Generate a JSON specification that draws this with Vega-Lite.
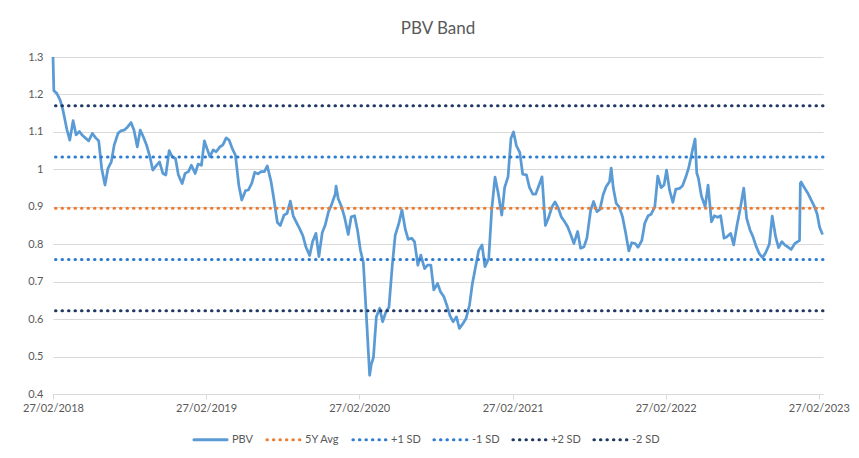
{
  "$schema": "https://vega.github.io/schema/vega-lite/v6.json",
  "width": 770,
  "height": 337,
  "autosize": {"type": "none"},
  "padding": {"left": 53, "top": 57, "right": 36, "bottom": 64},
  "background": "white",
  "title": {"text": "PBV Band", "font": "Lato", "fontSize": 17, "fontWeight": "normal", "color": "#595959", "anchor": "middle", "baseline": "alphabetic", "offset": 0},
  "config": {
    "view": {"stroke": null},
    "axis": {"labelFont": "Lato", "labelFontSize": 11, "labelColor": "#595959", "title": null}
  },
  "resolve": {"scale": {"y": "shared", "x": "shared"}},
  "layer": [
    {
      "data": {"values": [
        {"date": "2018-02-27", "PBV": 1.30},
        {"date": "2018-03-01", "PBV": 1.210},
        {"date": "2018-03-08", "PBV": 1.203},
        {"date": "2018-03-16", "PBV": 1.185},
        {"date": "2018-03-23", "PBV": 1.157},
        {"date": "2018-04-01", "PBV": 1.107},
        {"date": "2018-04-08", "PBV": 1.078},
        {"date": "2018-04-16", "PBV": 1.130},
        {"date": "2018-04-23", "PBV": 1.092},
        {"date": "2018-05-01", "PBV": 1.101},
        {"date": "2018-05-08", "PBV": 1.091},
        {"date": "2018-05-16", "PBV": 1.083},
        {"date": "2018-05-23", "PBV": 1.076},
        {"date": "2018-06-01", "PBV": 1.096},
        {"date": "2018-06-08", "PBV": 1.085},
        {"date": "2018-06-16", "PBV": 1.076},
        {"date": "2018-06-23", "PBV": 1.003},
        {"date": "2018-07-01", "PBV": 0.958},
        {"date": "2018-07-08", "PBV": 1.002},
        {"date": "2018-07-16", "PBV": 1.020},
        {"date": "2018-07-23", "PBV": 1.065},
        {"date": "2018-08-01", "PBV": 1.096},
        {"date": "2018-08-08", "PBV": 1.103},
        {"date": "2018-08-16", "PBV": 1.105},
        {"date": "2018-08-23", "PBV": 1.112},
        {"date": "2018-09-01", "PBV": 1.125},
        {"date": "2018-09-08", "PBV": 1.105},
        {"date": "2018-09-16", "PBV": 1.060},
        {"date": "2018-09-23", "PBV": 1.105},
        {"date": "2018-10-01", "PBV": 1.085},
        {"date": "2018-10-08", "PBV": 1.065},
        {"date": "2018-10-16", "PBV": 1.034},
        {"date": "2018-10-23", "PBV": 0.998},
        {"date": "2018-11-01", "PBV": 1.011},
        {"date": "2018-11-08", "PBV": 1.020},
        {"date": "2018-11-16", "PBV": 0.989},
        {"date": "2018-11-23", "PBV": 0.985},
        {"date": "2018-12-01", "PBV": 1.050},
        {"date": "2018-12-08", "PBV": 1.034},
        {"date": "2018-12-16", "PBV": 1.029},
        {"date": "2018-12-23", "PBV": 0.985},
        {"date": "2019-01-01", "PBV": 0.962},
        {"date": "2019-01-08", "PBV": 0.989},
        {"date": "2019-01-16", "PBV": 0.994},
        {"date": "2019-01-23", "PBV": 1.011},
        {"date": "2019-02-01", "PBV": 0.989},
        {"date": "2019-02-08", "PBV": 1.014},
        {"date": "2019-02-16", "PBV": 1.011},
        {"date": "2019-02-23", "PBV": 1.076},
        {"date": "2019-03-01", "PBV": 1.056},
        {"date": "2019-03-08", "PBV": 1.034},
        {"date": "2019-03-16", "PBV": 1.052},
        {"date": "2019-03-23", "PBV": 1.047},
        {"date": "2019-04-01", "PBV": 1.060},
        {"date": "2019-04-08", "PBV": 1.065},
        {"date": "2019-04-16", "PBV": 1.084},
        {"date": "2019-04-23", "PBV": 1.078},
        {"date": "2019-05-01", "PBV": 1.054},
        {"date": "2019-05-08", "PBV": 1.038},
        {"date": "2019-05-16", "PBV": 0.958},
        {"date": "2019-05-23", "PBV": 0.918},
        {"date": "2019-06-01", "PBV": 0.943},
        {"date": "2019-06-08", "PBV": 0.945},
        {"date": "2019-06-16", "PBV": 0.963},
        {"date": "2019-06-23", "PBV": 0.992},
        {"date": "2019-07-01", "PBV": 0.988},
        {"date": "2019-07-08", "PBV": 0.994},
        {"date": "2019-07-16", "PBV": 0.994},
        {"date": "2019-07-23", "PBV": 1.009},
        {"date": "2019-08-01", "PBV": 0.967},
        {"date": "2019-08-08", "PBV": 0.918},
        {"date": "2019-08-16", "PBV": 0.858},
        {"date": "2019-08-23", "PBV": 0.850},
        {"date": "2019-09-01", "PBV": 0.878},
        {"date": "2019-09-08", "PBV": 0.882},
        {"date": "2019-09-16", "PBV": 0.915},
        {"date": "2019-09-23", "PBV": 0.875},
        {"date": "2019-10-01", "PBV": 0.857},
        {"date": "2019-10-08", "PBV": 0.842},
        {"date": "2019-10-16", "PBV": 0.822},
        {"date": "2019-10-23", "PBV": 0.793},
        {"date": "2019-11-01", "PBV": 0.770},
        {"date": "2019-11-08", "PBV": 0.807},
        {"date": "2019-11-16", "PBV": 0.829},
        {"date": "2019-11-23", "PBV": 0.767},
        {"date": "2019-12-01", "PBV": 0.831},
        {"date": "2019-12-08", "PBV": 0.851},
        {"date": "2019-12-16", "PBV": 0.887},
        {"date": "2019-12-23", "PBV": 0.905},
        {"date": "2020-01-01", "PBV": 0.934},
        {"date": "2020-01-03", "PBV": 0.955},
        {"date": "2020-01-08", "PBV": 0.922},
        {"date": "2020-01-16", "PBV": 0.900},
        {"date": "2020-01-23", "PBV": 0.873},
        {"date": "2020-02-01", "PBV": 0.826},
        {"date": "2020-02-08", "PBV": 0.873},
        {"date": "2020-02-16", "PBV": 0.876},
        {"date": "2020-02-23", "PBV": 0.838},
        {"date": "2020-03-01", "PBV": 0.784},
        {"date": "2020-03-08", "PBV": 0.751},
        {"date": "2020-03-16", "PBV": 0.593},
        {"date": "2020-03-23", "PBV": 0.450},
        {"date": "2020-03-27", "PBV": 0.480},
        {"date": "2020-04-01", "PBV": 0.497},
        {"date": "2020-04-08", "PBV": 0.606},
        {"date": "2020-04-16", "PBV": 0.629},
        {"date": "2020-04-23", "PBV": 0.593},
        {"date": "2020-05-01", "PBV": 0.620},
        {"date": "2020-05-08", "PBV": 0.631},
        {"date": "2020-05-16", "PBV": 0.744},
        {"date": "2020-05-23", "PBV": 0.824},
        {"date": "2020-06-01", "PBV": 0.857},
        {"date": "2020-06-08", "PBV": 0.892},
        {"date": "2020-06-16", "PBV": 0.840},
        {"date": "2020-06-23", "PBV": 0.813},
        {"date": "2020-07-01", "PBV": 0.816},
        {"date": "2020-07-08", "PBV": 0.807},
        {"date": "2020-07-16", "PBV": 0.744},
        {"date": "2020-07-23", "PBV": 0.771},
        {"date": "2020-08-01", "PBV": 0.735},
        {"date": "2020-08-08", "PBV": 0.744},
        {"date": "2020-08-16", "PBV": 0.744},
        {"date": "2020-08-23", "PBV": 0.678},
        {"date": "2020-09-01", "PBV": 0.695},
        {"date": "2020-09-08", "PBV": 0.673},
        {"date": "2020-09-16", "PBV": 0.660},
        {"date": "2020-09-23", "PBV": 0.637},
        {"date": "2020-10-01", "PBV": 0.608},
        {"date": "2020-10-08", "PBV": 0.593},
        {"date": "2020-10-16", "PBV": 0.606},
        {"date": "2020-10-23", "PBV": 0.575},
        {"date": "2020-11-01", "PBV": 0.589},
        {"date": "2020-11-08", "PBV": 0.602},
        {"date": "2020-11-16", "PBV": 0.637},
        {"date": "2020-11-23", "PBV": 0.695},
        {"date": "2020-12-01", "PBV": 0.742},
        {"date": "2020-12-08", "PBV": 0.783},
        {"date": "2020-12-16", "PBV": 0.798},
        {"date": "2020-12-23", "PBV": 0.740},
        {"date": "2021-01-01", "PBV": 0.762},
        {"date": "2021-01-08", "PBV": 0.891},
        {"date": "2021-01-16", "PBV": 0.979},
        {"date": "2021-01-23", "PBV": 0.940},
        {"date": "2021-02-01", "PBV": 0.878},
        {"date": "2021-02-08", "PBV": 0.952},
        {"date": "2021-02-16", "PBV": 0.980},
        {"date": "2021-02-23", "PBV": 1.083},
        {"date": "2021-03-01", "PBV": 1.100},
        {"date": "2021-03-08", "PBV": 1.063},
        {"date": "2021-03-16", "PBV": 1.045},
        {"date": "2021-03-23", "PBV": 0.987},
        {"date": "2021-04-01", "PBV": 0.985},
        {"date": "2021-04-08", "PBV": 0.952},
        {"date": "2021-04-16", "PBV": 0.934},
        {"date": "2021-04-23", "PBV": 0.934},
        {"date": "2021-05-01", "PBV": 0.958},
        {"date": "2021-05-08", "PBV": 0.980},
        {"date": "2021-05-16", "PBV": 0.850},
        {"date": "2021-05-23", "PBV": 0.869},
        {"date": "2021-06-01", "PBV": 0.900},
        {"date": "2021-06-08", "PBV": 0.913},
        {"date": "2021-06-16", "PBV": 0.896},
        {"date": "2021-06-23", "PBV": 0.873},
        {"date": "2021-07-01", "PBV": 0.860},
        {"date": "2021-07-08", "PBV": 0.847},
        {"date": "2021-07-16", "PBV": 0.824},
        {"date": "2021-07-23", "PBV": 0.802},
        {"date": "2021-08-01", "PBV": 0.834},
        {"date": "2021-08-08", "PBV": 0.789},
        {"date": "2021-08-16", "PBV": 0.793},
        {"date": "2021-08-23", "PBV": 0.816},
        {"date": "2021-09-01", "PBV": 0.891},
        {"date": "2021-09-08", "PBV": 0.914},
        {"date": "2021-09-16", "PBV": 0.887},
        {"date": "2021-09-23", "PBV": 0.893},
        {"date": "2021-10-01", "PBV": 0.933},
        {"date": "2021-10-08", "PBV": 0.954},
        {"date": "2021-10-16", "PBV": 0.967},
        {"date": "2021-10-20", "PBV": 1.003},
        {"date": "2021-10-25", "PBV": 0.950},
        {"date": "2021-11-01", "PBV": 0.909},
        {"date": "2021-11-08", "PBV": 0.900},
        {"date": "2021-11-16", "PBV": 0.873},
        {"date": "2021-11-23", "PBV": 0.833},
        {"date": "2021-12-01", "PBV": 0.782},
        {"date": "2021-12-08", "PBV": 0.804},
        {"date": "2021-12-16", "PBV": 0.802},
        {"date": "2021-12-23", "PBV": 0.792},
        {"date": "2022-01-01", "PBV": 0.810},
        {"date": "2022-01-08", "PBV": 0.856},
        {"date": "2022-01-16", "PBV": 0.876},
        {"date": "2022-01-23", "PBV": 0.880},
        {"date": "2022-02-01", "PBV": 0.900},
        {"date": "2022-02-08", "PBV": 0.982},
        {"date": "2022-02-16", "PBV": 0.951},
        {"date": "2022-02-23", "PBV": 0.958},
        {"date": "2022-03-01", "PBV": 0.998},
        {"date": "2022-03-08", "PBV": 0.945},
        {"date": "2022-03-16", "PBV": 0.912},
        {"date": "2022-03-23", "PBV": 0.947},
        {"date": "2022-04-01", "PBV": 0.949},
        {"date": "2022-04-08", "PBV": 0.956},
        {"date": "2022-04-16", "PBV": 0.980},
        {"date": "2022-04-23", "PBV": 1.005},
        {"date": "2022-05-01", "PBV": 1.047},
        {"date": "2022-05-08", "PBV": 1.081},
        {"date": "2022-05-12", "PBV": 0.990},
        {"date": "2022-05-16", "PBV": 0.976},
        {"date": "2022-05-23", "PBV": 0.929},
        {"date": "2022-06-01", "PBV": 0.900},
        {"date": "2022-06-08", "PBV": 0.958},
        {"date": "2022-06-16", "PBV": 0.860},
        {"date": "2022-06-23", "PBV": 0.876},
        {"date": "2022-07-01", "PBV": 0.872},
        {"date": "2022-07-08", "PBV": 0.876},
        {"date": "2022-07-16", "PBV": 0.816},
        {"date": "2022-07-23", "PBV": 0.820},
        {"date": "2022-08-01", "PBV": 0.829},
        {"date": "2022-08-08", "PBV": 0.798},
        {"date": "2022-08-16", "PBV": 0.851},
        {"date": "2022-08-23", "PBV": 0.891},
        {"date": "2022-09-01", "PBV": 0.950},
        {"date": "2022-09-08", "PBV": 0.869},
        {"date": "2022-09-16", "PBV": 0.838},
        {"date": "2022-09-23", "PBV": 0.820},
        {"date": "2022-10-01", "PBV": 0.793},
        {"date": "2022-10-08", "PBV": 0.775},
        {"date": "2022-10-16", "PBV": 0.764},
        {"date": "2022-10-23", "PBV": 0.777},
        {"date": "2022-11-01", "PBV": 0.800},
        {"date": "2022-11-08", "PBV": 0.875},
        {"date": "2022-11-16", "PBV": 0.820},
        {"date": "2022-11-23", "PBV": 0.791},
        {"date": "2022-12-01", "PBV": 0.807},
        {"date": "2022-12-08", "PBV": 0.798},
        {"date": "2022-12-16", "PBV": 0.792},
        {"date": "2022-12-23", "PBV": 0.786},
        {"date": "2023-01-01", "PBV": 0.802},
        {"date": "2023-01-08", "PBV": 0.807},
        {"date": "2023-01-12", "PBV": 0.810},
        {"date": "2023-01-14", "PBV": 0.963},
        {"date": "2023-01-16", "PBV": 0.966},
        {"date": "2023-01-23", "PBV": 0.952},
        {"date": "2023-02-01", "PBV": 0.936},
        {"date": "2023-02-08", "PBV": 0.920},
        {"date": "2023-02-16", "PBV": 0.902},
        {"date": "2023-02-23", "PBV": 0.881},
        {"date": "2023-03-01", "PBV": 0.845},
        {"date": "2023-03-08", "PBV": 0.826}
      ]},
      "transform": [{"fold": ["PBV"], "as": ["series", "value"]}],
      "mark": {"type": "line", "strokeWidth": 2.75, "strokeJoin": "round"},
      "encoding": {
        "x": {
          "field": "date", "type": "temporal",
          "scale": {"type": "utc", "domain": [{"year": 2018, "month": 2, "date": 27, "utc": true}, {"year": 2023, "month": 3, "date": 9, "utc": true}]},
          "axis": {
            "values": [
              {"year": 2018, "month": 2, "date": 27, "utc": true},
              {"year": 2019, "month": 2, "date": 27, "utc": true},
              {"year": 2020, "month": 2, "date": 27, "utc": true},
              {"year": 2021, "month": 2, "date": 27, "utc": true},
              {"year": 2022, "month": 2, "date": 27, "utc": true},
              {"year": 2023, "month": 2, "date": 27, "utc": true}
            ],
            "labelExpr": "utcFormat(datum.value, '%d/%m/%Y')",
            "grid": false, "domain": true, "domainColor": "#d9d9d9", "ticks": true, "tickColor": "#d9d9d9", "tickSize": 5,
            "labelPadding": 3, "labelOverlap": false, "labelFlush": false
          }
        },
        "y": {
          "field": "value", "type": "quantitative",
          "scale": {"domain": [0.4, 1.3], "nice": false, "zero": false},
          "axis": {"values": [0.4, 0.5, 0.6, 0.7, 0.8, 0.9, 1.0, 1.1, 1.2, 1.3], "format": ".1~f", "grid": true, "gridColor": "#d9d9d9", "domain": false, "ticks": false, "labelPadding": 10, "labelOverlap": false, "tickCount": 10}
        },
        "color": {
          "field": "series", "type": "nominal",
          "scale": {"domain": ["PBV", "5Y Avg", "+1 SD", "-1 SD", "+2 SD", "-2 SD"], "range": ["#5B9BD5", "#ED7D31", "#2E7DD1", "#2E7DD1", "#1F3864", "#1F3864"]},
          "legend": {"orient": "none", "legendX": 139, "legendY": 364, "direction": "horizontal", "title": null, "symbolType": "stroke", "symbolSize": 1100, "symbolStrokeWidth": 3, "labelFont": "Lato", "labelFontSize": 11, "labelColor": "#595959", "columnPadding": 6, "labelOffset": 3, "encode": {"symbols": {"update": {"strokeCap": {"value": "round"}}}}}
        },
        "strokeDash": {
          "field": "series", "type": "nominal",
          "scale": {"domain": ["PBV", "5Y Avg", "+1 SD", "-1 SD", "+2 SD", "-2 SD"], "range": [[1, 0], [0.5, 6], [0.5, 6], [0.5, 6], [0.5, 6], [0.5, 6]]},
          "legend": {"orient": "none", "legendX": 139, "legendY": 364, "direction": "horizontal", "title": null, "symbolType": "stroke", "symbolSize": 1100, "symbolStrokeWidth": 3, "labelFont": "Lato", "labelFontSize": 11, "labelColor": "#595959", "columnPadding": 6, "labelOffset": 3, "encode": {"symbols": {"update": {"strokeCap": {"value": "round"}}}}}
        }
      }
    },
    {
      "data": {"values": [
        {"series": "5Y Avg", "value": 0.896},
        {"series": "+1 SD", "value": 1.033},
        {"series": "-1 SD", "value": 0.759},
        {"series": "+2 SD", "value": 1.170},
        {"series": "-2 SD", "value": 0.622}
      ]},
      "mark": {"type": "rule", "strokeWidth": 3, "strokeCap": "round"},
      "encoding": {
        "y": {
          "field": "value", "type": "quantitative",
          "axis": {"values": [0.4, 0.5, 0.6, 0.7, 0.8, 0.9, 1.0, 1.1, 1.2, 1.3], "format": ".1~f", "grid": true, "gridColor": "#d9d9d9", "domain": false, "ticks": false, "labelPadding": 10, "labelOverlap": false, "tickCount": 10}
        },
        "color": {"field": "series", "type": "nominal"},
        "strokeDash": {"field": "series", "type": "nominal"}
      }
    }
  ]
}
